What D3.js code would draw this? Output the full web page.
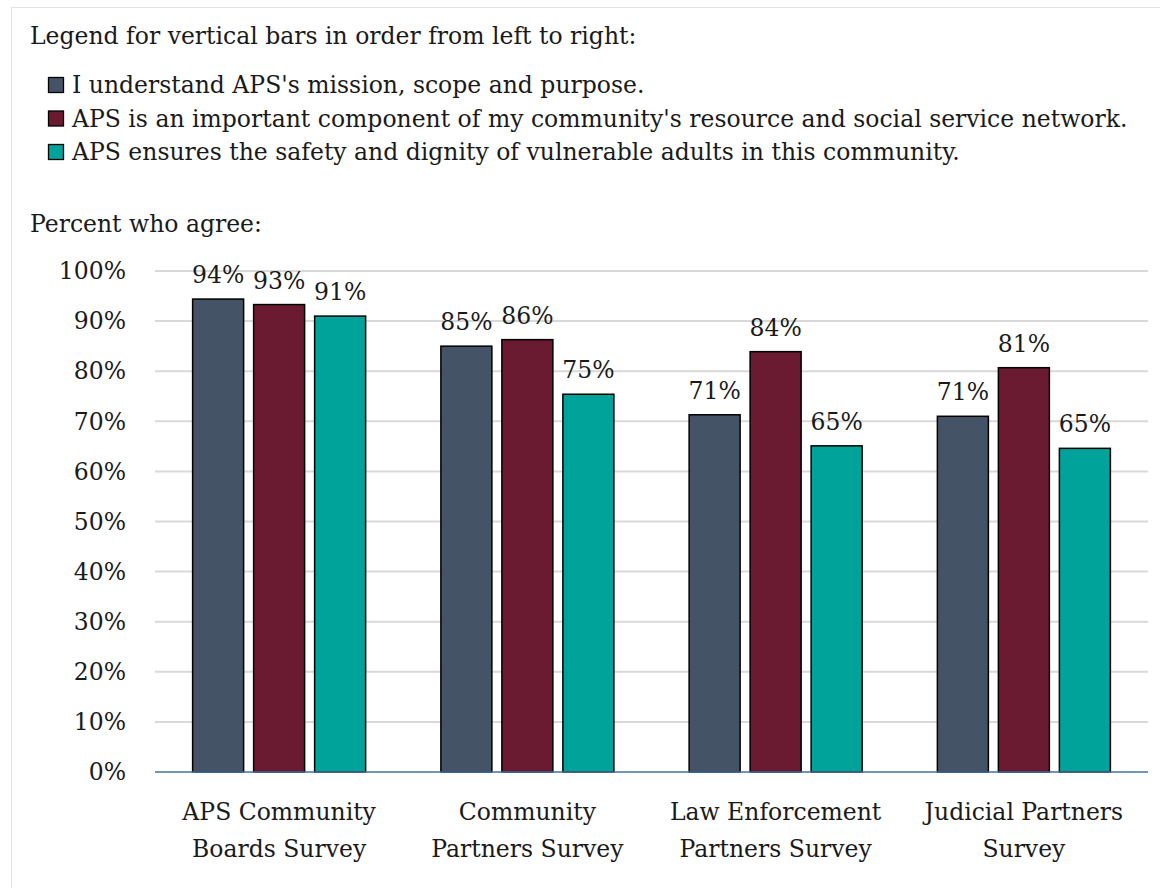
<!DOCTYPE html>
<html><head><meta charset="utf-8">
<script src="https://cdn.jsdelivr.net/npm/d3@7"></script>
<style>body{margin:0;background:#fff}svg{display:block}text{font-family:"DejaVu Serif",serif;fill:#1a1a1a}</style>
</head><body><svg id="c" width="1160" height="888"></svg>
<script>
const categories = [["APS Community","Boards Survey"],["Community","Partners Survey"],["Law Enforcement","Partners Survey"],["Judicial Partners","Survey"]];
const seriesNames = ["I understand APS's mission, scope and purpose.","APS is an important component of my community's resource and social service network.","APS ensures the safety and dignity of vulnerable adults in this community."];
const understand = [94.4, 85.0, 71.3, 71.0];
const important = [93.3, 86.3, 83.9, 80.7];
const ensures = [91.0, 75.4, 65.1, 64.6];
const yTicks = [0,10,20,30,40,50,60,70,80,90,100];
const colors = ["#445466","#6a1b31","#00a39a"];
const series = [understand, important, ensures];

const svg = d3.select("#c");
svg.append("rect").attr("x",11.5).attr("y",7.5).attr("width",1160).attr("height",900).attr("fill","none").attr("stroke","#e3e3e3");

const fs = 23.5;
svg.append("text").attr("x",30).attr("y",44).attr("font-size",fs).text("Legend for vertical bars in order from left to right:");
const lg = svg.append("g");
seriesNames.forEach((n,i)=>{
  const y = 93 + i*33.5;
  lg.append("rect").attr("x",48.5).attr("y",y-15.5).attr("width",15).attr("height",15).attr("fill",colors[i]).attr("stroke","#000").attr("stroke-width",1.3);
  lg.append("text").attr("x",72).attr("y",y).attr("font-size",fs).text(n);
});
svg.append("text").attr("x",30).attr("y",232).attr("font-size",fs).text("Percent who agree:");

const x0 = d3.scaleBand().domain(d3.range(categories.length)).range([155,1148]);
const x1 = d3.scaleBand().domain(d3.range(series.length)).range([0,173]).paddingInner(0.164);
const y = d3.scaleLinear().domain([0,100]).range([772,271]);

const grid = svg.append("g");
yTicks.forEach(t=>{
  if(t>0) grid.append("line").attr("x1",155).attr("x2",1148).attr("y1",y(t)).attr("y2",y(t)).attr("stroke","#d9d9d9").attr("stroke-width",2);
});
const yAxis = svg.append("g").attr("transform","translate(155,0)")
  .call(d3.axisLeft(y).tickValues(yTicks).tickFormat(d=>d+"%").tickSize(0).tickPadding(29));
yAxis.select(".domain").remove();
yAxis.selectAll("text").attr("font-size",fs).attr("font-family",null).attr("fill","#1a1a1a").attr("dy","0.33em");

const gOff = (x0.bandwidth()-173)/2;
series.forEach((vals,si)=>{
  const g = svg.append("g");
  vals.forEach((v,ci)=>{
    const bx = x0(ci)+gOff+x1(si);
    g.append("rect").attr("x",bx).attr("y",y(v)).attr("width",x1.bandwidth()).attr("height",y(0)-y(v))
      .attr("fill",colors[si]).attr("stroke","#000").attr("stroke-width",1.5);
    g.append("text").attr("x",bx+x1.bandwidth()/2).attr("y",y(v)-16).attr("text-anchor","middle").attr("font-size",fs).text(Math.round(v)+"%");
  });
});
svg.append("line").attr("x1",155).attr("x2",1148).attr("y1",772).attr("y2",772).attr("stroke","#44709a").attr("stroke-width",1.5);

categories.forEach((c,i)=>{
  const cx = x0(i)+x0.bandwidth()/2;
  c.forEach((l,j)=>{
    svg.append("text").attr("x",cx).attr("y",820+j*37).attr("text-anchor","middle").attr("font-size",fs).text(l);
  });
});
</script></body></html>
